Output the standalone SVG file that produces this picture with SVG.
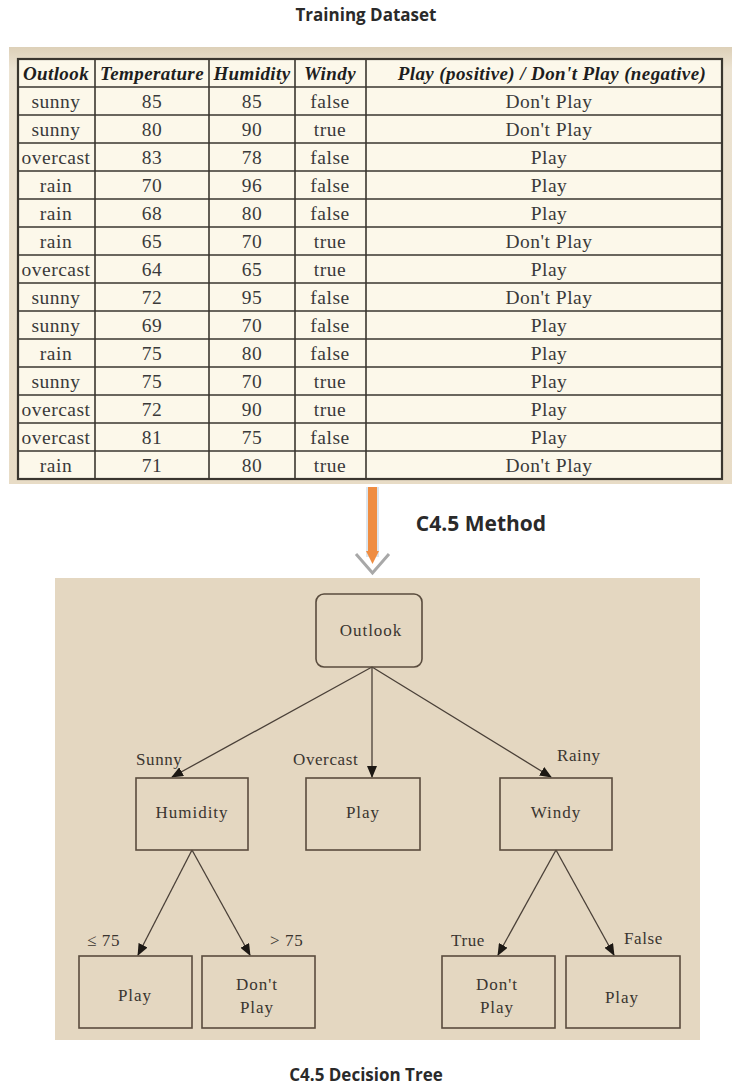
<svg xmlns="http://www.w3.org/2000/svg" width="732" height="1087" viewBox="0 0 732 1087">
<defs>
<style>
.title{font-family:"Open Sans","Liberation Sans",sans-serif;font-weight:bold;font-size:17px;fill:#2a2a2a;text-anchor:middle}
.th{font-family:"Liberation Serif",serif;font-weight:bold;font-style:italic;font-size:19px;letter-spacing:0.4px;fill:#1e1e1e;text-anchor:middle}
.td{font-family:"Liberation Serif",serif;font-size:19.5px;letter-spacing:0.5px;fill:#3a3a3a;text-anchor:middle}
.grid{stroke:#3a362f;stroke-width:1.6;fill:none}
.node{fill:none;stroke:#5a4c3e;stroke-width:1.6}
.nt{font-family:"Liberation Serif",serif;font-size:17px;letter-spacing:1px;fill:#3a3530;text-anchor:middle}
.lbl{font-family:"Liberation Serif",serif;font-size:17px;letter-spacing:0.6px;fill:#3a3530}
.edge{stroke:#4a4038;stroke-width:1.3;fill:none;marker-end:url(#ah)}
</style>
<marker id="ah" markerWidth="12" markerHeight="10" refX="11" refY="5" orient="auto" markerUnits="userSpaceOnUse">
<path d="M0,0 L12,5 L0,10 Z" fill="#1c1814"/>
</marker>
<linearGradient id="panelBg" x1="0" y1="0" x2="0" y2="1">
<stop offset="0" stop-color="#ddd0b8"/>
<stop offset="0.05" stop-color="#ece3d2"/>
<stop offset="1" stop-color="#e8dcc6"/>
</linearGradient>
</defs>
<rect width="732" height="1087" fill="#ffffff"/>

<text class="title" x="366" y="21">Training Dataset</text>

<g id="table">
<rect x="9" y="47" width="723" height="437" fill="url(#panelBg)"/>
<rect x="18" y="59" width="704" height="420" fill="#fcf8ea"/>
<g class="grid">
<rect x="18" y="59" width="704" height="420" stroke-width="2.2"/>
<line x1="95" y1="59" x2="95" y2="479"/>
<line x1="209" y1="59" x2="209" y2="479"/>
<line x1="295" y1="59" x2="295" y2="479"/>
<line x1="366" y1="59" x2="366" y2="479"/>
<line x1="18" y1="87" x2="722" y2="87"/>
<line x1="18" y1="115" x2="722" y2="115"/>
<line x1="18" y1="143" x2="722" y2="143"/>
<line x1="18" y1="171" x2="722" y2="171"/>
<line x1="18" y1="199" x2="722" y2="199"/>
<line x1="18" y1="227" x2="722" y2="227"/>
<line x1="18" y1="255" x2="722" y2="255"/>
<line x1="18" y1="283" x2="722" y2="283"/>
<line x1="18" y1="311" x2="722" y2="311"/>
<line x1="18" y1="339" x2="722" y2="339"/>
<line x1="18" y1="367" x2="722" y2="367"/>
<line x1="18" y1="395" x2="722" y2="395"/>
<line x1="18" y1="423" x2="722" y2="423"/>
<line x1="18" y1="451" x2="722" y2="451"/>
</g>
<text class="th" x="56" y="80">Outlook</text>
<text class="th" x="152" y="80">Temperature</text>
<text class="th" x="252" y="80">Humidity</text>
<text class="th" x="330" y="80">Windy</text>
<text class="th" x="552" y="80">Play (positive) / Don't Play (negative)</text>

<g class="td">
<text x="56" y="108">sunny</text><text x="152" y="108">85</text><text x="252" y="108">85</text><text x="330" y="108">false</text><text x="549" y="108">Don't Play</text>
<text x="56" y="136">sunny</text><text x="152" y="136">80</text><text x="252" y="136">90</text><text x="330" y="136">true</text><text x="549" y="136">Don't Play</text>
<text x="56" y="164">overcast</text><text x="152" y="164">83</text><text x="252" y="164">78</text><text x="330" y="164">false</text><text x="549" y="164">Play</text>
<text x="56" y="192">rain</text><text x="152" y="192">70</text><text x="252" y="192">96</text><text x="330" y="192">false</text><text x="549" y="192">Play</text>
<text x="56" y="220">rain</text><text x="152" y="220">68</text><text x="252" y="220">80</text><text x="330" y="220">false</text><text x="549" y="220">Play</text>
<text x="56" y="248">rain</text><text x="152" y="248">65</text><text x="252" y="248">70</text><text x="330" y="248">true</text><text x="549" y="248">Don't Play</text>
<text x="56" y="276">overcast</text><text x="152" y="276">64</text><text x="252" y="276">65</text><text x="330" y="276">true</text><text x="549" y="276">Play</text>
<text x="56" y="304">sunny</text><text x="152" y="304">72</text><text x="252" y="304">95</text><text x="330" y="304">false</text><text x="549" y="304">Don't Play</text>
<text x="56" y="332">sunny</text><text x="152" y="332">69</text><text x="252" y="332">70</text><text x="330" y="332">false</text><text x="549" y="332">Play</text>
<text x="56" y="360">rain</text><text x="152" y="360">75</text><text x="252" y="360">80</text><text x="330" y="360">false</text><text x="549" y="360">Play</text>
<text x="56" y="388">sunny</text><text x="152" y="388">75</text><text x="252" y="388">70</text><text x="330" y="388">true</text><text x="549" y="388">Play</text>
<text x="56" y="416">overcast</text><text x="152" y="416">72</text><text x="252" y="416">90</text><text x="330" y="416">true</text><text x="549" y="416">Play</text>
<text x="56" y="444">overcast</text><text x="152" y="444">81</text><text x="252" y="444">75</text><text x="330" y="444">false</text><text x="549" y="444">Play</text>
<text x="56" y="472">rain</text><text x="152" y="472">71</text><text x="252" y="472">80</text><text x="330" y="472">true</text><text x="549" y="472">Don't Play</text>
</g>
</g>

<g id="method-arrow">
<rect x="366" y="487" width="13" height="70" fill="#dce6ee"/>
<rect x="368" y="487" width="9" height="66" fill="#ef8d42"/>
<path d="M366,551 L372.5,564 L379,551 Z" fill="#ef8d42"/>
<polyline points="356,554 372.5,573 389,554" fill="none" stroke="#a8a8a8" stroke-width="3"/>
</g>
<text class="title" x="481" y="531" style="font-size:21px">C4.5 Method</text>

<rect x="55" y="578" width="645" height="462" fill="#e4d7c1"/>

<g id="connectors">
<line class="edge" x1="372" y1="667" x2="172" y2="777"/>
<line class="edge" x1="372" y1="667" x2="372" y2="777"/>
<line class="edge" x1="372" y1="667" x2="551" y2="777"/>
<line class="edge" x1="192" y1="850" x2="138" y2="955"/>
<line class="edge" x1="192" y1="850" x2="250" y2="955"/>
<line class="edge" x1="556" y1="850" x2="498" y2="955"/>
<line class="edge" x1="556" y1="850" x2="614" y2="955"/>
</g>

<g id="edge-labels">
<text class="lbl" x="136" y="765">Sunny</text>
<text class="lbl" x="293" y="765">Overcast</text>
<text class="lbl" x="557" y="761">Rainy</text>
<text class="lbl" x="87" y="946">≤ 75</text>
<text class="lbl" x="270" y="946">&gt; 75</text>
<text class="lbl" x="451" y="946">True</text>
<text class="lbl" x="624" y="944">False</text>
</g>

<g id="n-outlook">
<rect class="node" x="316" y="594" width="106" height="73" rx="8" stroke-width="2"/>
<text class="nt" x="371" y="636">Outlook</text>
</g>
<g id="n-humidity">
<rect class="node" x="136" y="778" width="112" height="72"/>
<text class="nt" x="192" y="818">Humidity</text>
</g>
<g id="n-play-overcast">
<rect class="node" x="306" y="778" width="114" height="72"/>
<text class="nt" x="363" y="818">Play</text>
</g>
<g id="n-windy">
<rect class="node" x="500" y="778" width="112" height="72"/>
<text class="nt" x="556" y="818">Windy</text>
</g>
<g id="n-play-le75">
<rect class="node" x="79" y="956" width="113" height="72"/>
<text class="nt" x="135" y="1001">Play</text>
</g>
<g id="n-dontplay-gt75">
<rect class="node" x="202" y="956" width="113" height="72"/>
<text class="nt" x="257" y="990">Don't</text>
<text class="nt" x="257" y="1013">Play</text>
</g>
<g id="n-dontplay-true">
<rect class="node" x="442" y="956" width="113" height="72"/>
<text class="nt" x="497" y="990">Don't</text>
<text class="nt" x="497" y="1013">Play</text>
</g>
<g id="n-play-false">
<rect class="node" x="566" y="956" width="114" height="72"/>
<text class="nt" x="622" y="1003">Play</text>
</g>

<text class="title" x="366" y="1081">C4.5 Decision Tree</text>
</svg>
